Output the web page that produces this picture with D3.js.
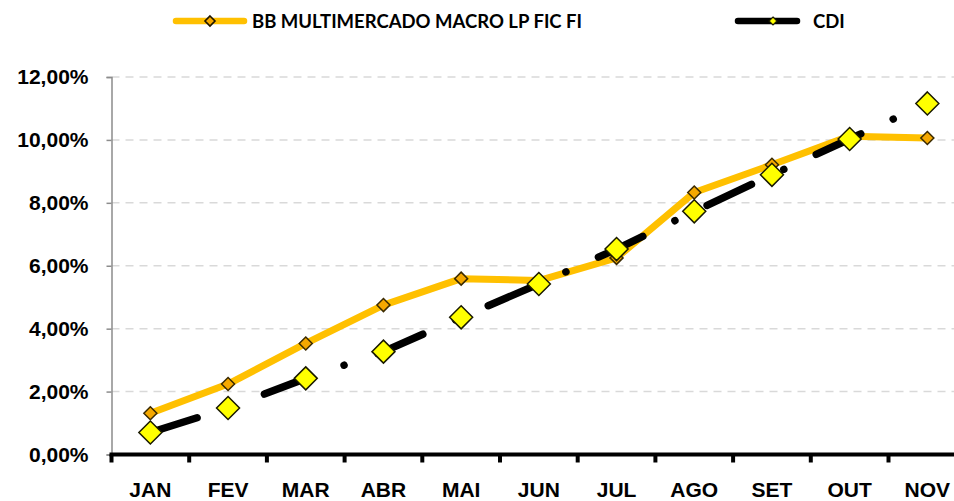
<!DOCTYPE html>
<html>
<head>
<meta charset="utf-8">
<script src="https://cdn.jsdelivr.net/npm/d3@7/dist/d3.min.js"></script>
<style>
  html, body { margin: 0; padding: 0; background: #fff; overflow: hidden; }
  svg { display: block; font-weight: bold; }
</style>
</head>
<body>
<svg id="chart" width="954" height="501"></svg>
<script>
// Monthly accumulated returns (%)
const months = ["JAN", "FEV", "MAR", "ABR", "MAI", "JUN", "JUL", "AGO", "SET", "OUT", "NOV"];
const bbValues = [1.31, 2.24, 3.53, 4.75, 5.59, 5.53, 6.25, 8.33, 9.21, 10.12, 10.06];
const cdiValues = [0.70, 1.48, 2.42, 3.27, 4.36, 5.42, 6.53, 7.73, 8.89, 10.03, 11.16];
const yTicks = [0, 2, 4, 6, 8, 10, 12];
const seriesNames = ["BB MULTIMERCADO MACRO LP FIC FI", "CDI"];

const svg = d3.select("#chart");
const W = 954, H = 501;
const plotLeft = 111.5, plotBottom = 454.5, plotTop = 77;
const step = 77.7;
const axisFont = "'Liberation Sans', Arial, sans-serif";
const legendFont = "Lato, 'Open Sans', sans-serif";

const x = d3.scaleBand().domain(months).range([plotLeft, plotLeft + step * months.length]).padding(0);
const y = d3.scaleLinear().domain([0, 12]).range([plotBottom, plotTop]);
const cx = m => x(m) + x.bandwidth() / 2;

const fmt = v => d3.format(".2f")(v).replace(".", ",") + "%";

// Gridlines
svg.append("g").selectAll("line")
  .data(yTicks.filter(t => t > 0))
  .join("line")
  .attr("x1", plotLeft).attr("x2", W)
  .attr("y1", d => y(d)).attr("y2", d => y(d))
  .attr("stroke", "#d9d9d9").attr("stroke-width", 1.5)
  .attr("stroke-dasharray", "8,6");

// Y axis
const yAxis = svg.append("g")
  .attr("transform", `translate(${plotLeft},0)`)
  .call(d3.axisLeft(y).tickValues(yTicks).tickFormat(fmt).tickSize(5).tickPadding(18));
yAxis.select(".domain").attr("stroke", "#8c8c8c").attr("stroke-width", 1.5);
yAxis.selectAll(".tick line").attr("stroke", "#8c8c8c").attr("stroke-width", 1.5);
yAxis.selectAll("text")
  .attr("fill", "#000").attr("font-size", 21).attr("font-weight", "bold")
  .attr("font-family", axisFont);

// X axis
const xAxis = svg.append("g")
  .attr("transform", `translate(0,${plotBottom})`)
  .call(d3.axisBottom(x).tickSize(0).tickPadding(28));
xAxis.select(".domain").remove();
xAxis.selectAll("text")
  .attr("fill", "#000").attr("font-size", 21).attr("font-weight", "bold")
  .attr("font-family", axisFont);
svg.append("line")
  .attr("x1", plotLeft - 2).attr("x2", W)
  .attr("y1", plotBottom).attr("y2", plotBottom)
  .attr("stroke", "#000").attr("stroke-width", 4);
svg.append("g").selectAll("line")
  .data(months.concat(["_end"]))
  .join("line")
  .attr("x1", (d, i) => plotLeft + i * step).attr("x2", (d, i) => plotLeft + i * step)
  .attr("y1", plotBottom).attr("y2", plotBottom + 8)
  .attr("stroke", "#000").attr("stroke-width", 4);

const diamond = s => `M0,${-s}L${s},0L0,${s}L${-s},0Z`;
const line = d3.line().x((d, i) => cx(months[i])).y(d => y(d));

// BB fund series
svg.append("path")
  .datum(bbValues)
  .attr("d", line)
  .attr("fill", "none").attr("stroke", "#ffc000").attr("stroke-width", 7)
  .attr("stroke-linejoin", "round");
svg.append("g").selectAll("path")
  .data(bbValues)
  .join("path")
  .attr("transform", (d, i) => `translate(${cx(months[i])},${y(d)})`)
  .attr("d", diamond(6.5))
  .attr("fill", "#f5a800").attr("stroke", "#3a2a00").attr("stroke-width", 1.5);

// CDI series
svg.append("path")
  .datum(cdiValues)
  .attr("d", line)
  .attr("fill", "none").attr("stroke", "#000").attr("stroke-width", 7.5)
  .attr("stroke-linecap", "round").attr("stroke-linejoin", "round")
  .attr("stroke-dasharray", "49,35.7,0.01,35.7");
svg.append("g").selectAll("path")
  .data(cdiValues)
  .join("path")
  .attr("transform", (d, i) => `translate(${cx(months[i])},${y(d)})`)
  .attr("d", diamond(11.5))
  .attr("fill", "#ffff00").attr("stroke", "#1a1a00").attr("stroke-width", 1.5);

// Legend
const legend = svg.append("g");
legend.append("line").attr("x1", 176).attr("x2", 244).attr("y1", 21).attr("y2", 21)
  .attr("stroke", "#ffc000").attr("stroke-width", 6.5).attr("stroke-linecap", "round");
legend.append("path").attr("transform", "translate(210,21)").attr("d", diamond(5))
  .attr("fill", "#f5a800").attr("stroke", "#1a1400").attr("stroke-width", 1.6);
legend.append("text").attr("x", 252).attr("y", 28.3)
  .attr("font-family", legendFont).attr("font-size", 18.5).attr("fill", "#000").text(seriesNames[0]);
legend.append("line").attr("x1", 738).attr("x2", 797).attr("y1", 21).attr("y2", 21)
  .attr("stroke", "#000").attr("stroke-width", 6.5).attr("stroke-linecap", "round");
legend.append("path").attr("transform", "translate(773,21)").attr("d", diamond(4))
  .attr("fill", "#ffff00").attr("stroke", "#1a1a00").attr("stroke-width", 1.2);
legend.append("text").attr("x", 813).attr("y", 28.3)
  .attr("font-family", legendFont).attr("font-size", 18.5).attr("fill", "#000").text(seriesNames[1]);
</script>
</body>
</html>
